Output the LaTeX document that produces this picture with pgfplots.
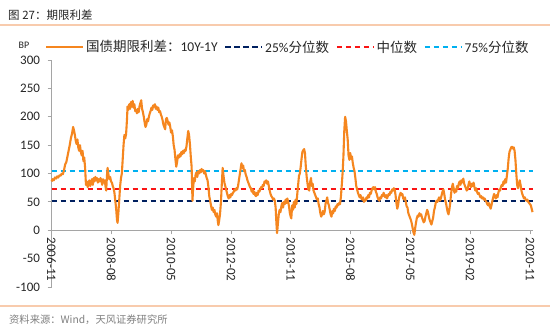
\documentclass[border=0pt]{standalone}
\usepackage{pgfplots}
\pgfplotsset{compat=1.18}
\usepackage{fontspec}
\setmainfont{Carlito}
\newfontfamily\cjk{Noto Sans CJK SC}
\definecolor{ora}{RGB}{245,134,31}
\definecolor{navyb}{RGB}{0,32,96}
\definecolor{medred}{RGB}{250,20,20}
\definecolor{lblue}{RGB}{0,176,240}
\definecolor{axgray}{RGB}{165,165,165}
\definecolor{txt}{RGB}{38,38,38}
\definecolor{hdr}{RGB}{248,203,173}
\pgfplotstableread{
y
72
}\medtab
\begin{document}
\begin{tikzpicture}[x=1bp,y=1bp]
\path[use as bounding box] (0,0) rectangle (550,328);
\fill[white] (0,0) rectangle (550,328);
\node[anchor=west, font=\cjk\fontsize{11.5bp}{13bp}\selectfont, text=txt, inner sep=0] at (8,313) {图 27：期限利差};
\draw[hdr, line width=1.2bp] (0,303) -- (550,303);
\draw[hdr, line width=1.2bp] (0,22) -- (550,22);
\node[anchor=west, font=\cjk\fontsize{10.3bp}{12bp}\selectfont, text=gray, inner sep=0] at (9,8) {资料来源：Wind，天风证券研究所};
\node[font=\fontsize{10bp}{12bp}\selectfont, text=txt] at (24,283) {BP};
\begin{axis}[
  at={(51.5bp,41bp)}, anchor=south west,
  scale only axis, width=481.3bp, height=227bp,
  xmin=0, xmax=169, ymin=-100, ymax=300,
  axis x line=middle, axis y line=left,
  axis line style={axgray, line width=0.8bp, -},
  xtick={0,21,42,63,84,105,126,147,168},
  xticklabels={2006-11,2008-08,2010-05,2012-02,2013-11,2015-08,2017-05,2019-02,2020-11},
  ytick={-100,-50,0,50,100,150,200,250,300},
  yticklabels={-100,-50,0,50,100,150,200,250,300},
  tick align=outside, xtick align=outside, major tick length=4bp,
  tick style={axgray, line width=0.8bp},
  hide obscured x ticks=false, hide obscured y ticks=false,
  xticklabel style={rotate=-90, anchor=west, font=\fontsize{13bp}{15bp}\selectfont, text=txt},
  yticklabel style={font=\fontsize{13bp}{15bp}\selectfont, text=txt, xshift=-4bp},
  clip=false,
  legend columns=4,
  legend style={at={(0.491,1.057)}, anchor=center, draw=none, fill=none,
    font=\fontsize{13.5bp}{15bp}\selectfont, text=txt,
    /tikz/every even column/.append style={column sep=5bp}},
  legend image code/.code={\draw[#1] (0bp,0bp) -- (37bp,0bp);},
]
\addlegendimage{color=ora, line width=2bp}
\addlegendentry{{\cjk 国债期限利差：}10Y-1Y}
\addlegendimage{color=navyb, line width=1.6bp, dash pattern=on 5.5bp off 3.5bp}
\addlegendentry{25\%{\cjk 分位数}}
\addlegendimage{color=medred, line width=1.6bp, dash pattern=on 5.5bp off 3.5bp}
\addlegendentry{{\cjk 中位数}}
\addlegendimage{color=lblue, line width=1.6bp, dash pattern=on 5.5bp off 3.5bp}
\addlegendentry{75\%{\cjk 分位数}}

\addplot[forget plot, color=navyb, line width=1.6bp, dash pattern=on 5.5bp off 3.5bp] coordinates {(0,52) (169,52)};
\addplot[forget plot, draw=medred, line width=1.7bp, dash pattern=on 5.5bp off 3.5bp] coordinates {(0,72.2) (169,72.2)};
\addplot[forget plot, color=lblue, line width=1.6bp, dash pattern=on 5.5bp off 3.5bp] coordinates {(0,104) (169,104)};

\addplot[forget plot, color=ora, line width=2.1bp, line join=round] coordinates {
(0,86) (0.4,90) (0.8,88) (1.2,93) (1.6,91) (2,95) (2.4,93) (2.8,97) (3.2,96) (3.6,100)
(4,99) (4.4,106) (4.8,116) (5.2,120) (5.6,130) (6,140) (6.4,150) (6.8,162) (7.2,170) (7.6,182)
(7.9,176) (8.2,168) (8.5,158) (8.8,152) (9.1,160) (9.4,146) (9.7,140) (10,150) (10.3,138) (10.6,132)
(10.9,140) (11.2,122) (11.5,128) (11.8,110) (12.1,80) (12.4,86) (12.7,76) (13,82) (13.3,88) (13.6,78)
(13.9,84) (14.2,90) (14.5,80) (14.8,92) (15.1,86) (15.4,94) (15.7,88) (16,92) (16.3,84) (16.6,90)
(16.9,86) (17.2,92) (17.5,88) (17.8,80) (18.1,90) (18.4,84) (18.7,88) (19,76) (19.2,70) (19.5,98)
(19.7,110) (20,98) (20.3,90) (20.6,94) (20.9,86) (21.2,84) (21.5,78) (21.8,74) (22.1,66) (22.4,52)
(22.7,38) (23,18) (23.2,13) (23.5,32) (23.8,55) (24.1,78) (24.4,92) (24.7,100) (25,125) (25.3,150)
(25.6,168) (25.9,162) (26.2,170) (26.5,195) (26.7,218) (27,212) (27.3,222) (27.6,214) (27.9,226) (28.2,218)
(28.5,228) (28.8,216) (29.1,222) (29.4,210) (29.7,212) (30,206) (30.3,214) (30.6,208) (30.9,218) (31.2,224)
(31.5,229) (31.8,214) (32.1,208) (32.4,200) (32.7,190) (33,182) (33.3,186) (33.6,196) (33.9,192) (34.2,200)
(34.5,206) (34.8,210) (35.1,216) (35.4,212) (35.7,220) (36,218) (36.3,222) (36.6,214) (36.9,218) (37.2,212)
(37.5,216) (37.8,208) (38.1,210) (38.4,204) (38.7,200) (39,194) (39.3,186) (39.6,182) (39.9,178) (40.2,196)
(40.5,198) (40.8,192) (41.1,186) (41.4,190) (41.7,182) (42,172) (42.3,176) (42.6,166) (42.9,150) (43.2,142)
(43.5,126) (43.8,112) (44.1,120) (44.4,132) (44.7,128) (45,134) (45.3,130) (45.6,138) (45.9,134) (46.2,140)
(46.5,136) (46.8,142) (47.1,140) (47.4,148) (47.7,162) (48,175) (48.3,168) (48.6,152) (48.9,130) (49.2,112)
(49.5,52) (49.7,72) (50,92) (50.3,86) (50.6,98) (50.9,102) (51.2,94) (51.5,104) (51.8,100) (52.1,106)
(52.4,102) (52.7,108) (53,104) (53.3,106) (53.6,100) (53.9,104) (54.2,98) (54.5,92) (54.8,88) (55.1,76)
(55.4,60) (55.7,52) (56,44) (56.3,36) (56.6,40) (56.9,32) (57.2,36) (57.5,28) (57.8,24) (58.1,30)
(58.4,16) (58.6,9) (58.9,18) (59.2,30) (59.5,50) (59.8,82) (60.1,110) (60.4,96) (60.7,84) (61,78)
(61.3,72) (61.6,66) (61.9,60) (62.2,56) (62.5,62) (62.8,58) (63.1,64) (63.4,62) (63.7,66) (64,68)
(64.3,72) (64.6,70) (64.9,74) (65.2,72) (65.5,78) (65.8,88) (66.1,98) (66.4,108) (66.7,118) (67,110)
(67.3,114) (67.6,104) (67.9,106) (68.2,98) (68.5,94) (68.8,88) (69.1,84) (69.4,80) (69.7,76) (70,74)
(70.3,68) (70.6,72) (70.9,64) (71.2,68) (71.5,62) (71.8,60) (72.1,66) (72.4,62) (72.7,70) (73,68)
(73.3,72) (73.6,76) (73.9,74) (74.2,80) (74.5,78) (74.8,86) (75.1,84) (75.4,88) (75.7,82) (76,86)
(76.3,78) (76.6,70) (76.9,64) (77.2,60) (77.5,58) (77.8,54) (78.1,56) (78.4,52) (78.7,40) (79,10)
(79.2,-5) (79.5,12) (79.8,28) (80.1,36) (80.4,32) (80.7,42) (81,48) (81.3,40) (81.6,50) (81.9,46)
(82.2,54) (82.5,48) (82.8,56) (83.1,50) (83.4,42) (83.7,30) (84,24) (84.2,21) (84.5,44) (84.8,36)
(85.1,50) (85.4,40) (85.7,54) (86,46) (86.3,64) (86.6,80) (86.9,96) (87.2,100) (87.5,112) (87.8,126)
(88.1,138) (88.4,141) (88.7,143) (89,136) (89.3,112) (89.6,94) (89.9,82) (90.2,72) (90.5,70) (90.8,84)
(91.1,92) (91.4,78) (91.7,82) (92,70) (92.3,66) (92.6,62) (92.9,58) (93.2,54) (93.5,56) (93.8,46)
(94.1,40) (94.4,30) (94.7,24) (95,28) (95.3,34) (95.6,28) (95.9,32) (96.2,46) (96.5,52) (96.8,58)
(97.1,48) (97.4,44) (97.7,36) (98,28) (98.3,24) (98.6,34) (98.9,30) (99.2,38) (99.5,34) (99.8,42)
(100.1,40) (100.4,46) (100.7,44) (101,48) (101.3,46) (101.6,58) (101.9,78) (102.2,100) (102.5,130) (102.8,175)
(103.1,200) (103.4,192) (103.7,175) (104,160) (104.3,132) (104.6,124) (104.9,136) (105.2,126) (105.5,130) (105.8,118)
(106.1,110) (106.4,104) (106.7,92) (107,78) (107.3,72) (107.6,66) (107.9,62) (108.2,58) (108.5,62) (108.8,56)
(109.1,54) (109.4,58) (109.7,50) (110,54) (110.3,52) (110.6,58) (110.9,56) (111.2,62) (111.5,58) (111.8,66)
(112.1,64) (112.4,70) (112.7,74) (113,76) (113.3,72) (113.6,76) (113.9,68) (114.2,64) (114.5,58) (114.8,54)
(115.1,52) (115.4,58) (115.7,56) (116,62) (116.3,60) (116.6,66) (116.9,62) (117.2,58) (117.5,62) (117.8,56)
(118.1,60) (118.4,64) (118.7,62) (119,68) (119.3,66) (119.6,72) (119.9,70) (120.2,74) (120.5,72) (120.8,62)
(121.1,48) (121.4,38) (121.7,44) (122,56) (122.3,62) (122.6,66) (122.9,62) (123.2,64) (123.5,56) (123.8,54)
(124.1,58) (124.4,50) (124.7,42) (125,40) (125.3,30) (125.6,26) (125.9,22) (126.2,18) (126.5,12) (126.8,4)
(127.1,-4) (127.4,-8) (127.7,4) (128,14) (128.3,22) (128.6,26) (128.9,24) (129.2,30) (129.5,26) (129.8,28)
(130.1,22) (130.4,18) (130.7,14) (131,16) (131.3,24) (131.6,30) (131.9,36) (132.2,32) (132.5,24) (132.8,18)
(133.1,14) (133.4,10) (133.7,16) (134,22) (134.3,34) (134.6,40) (134.9,48) (135.2,52) (135.5,50) (135.8,54)
(136.1,58) (136.4,52) (136.7,56) (137,62) (137.3,68) (137.6,72) (137.9,64) (138.2,54) (138.5,48) (138.8,40)
(139.1,32) (139.4,28) (139.7,36) (140,48) (140.3,64) (140.6,76) (140.9,82) (141.2,74) (141.5,66) (141.8,72)
(142.1,68) (142.4,78) (142.7,74) (143,82) (143.3,86) (143.6,80) (143.9,88) (144.2,84) (144.6,91) (144.9,82)
(145.2,78) (145.5,74) (145.8,70) (146.1,72) (146.4,80) (146.7,86) (147,80) (147.3,76) (147.6,82) (147.9,78)
(148.2,84) (148.5,76) (148.8,70) (149.1,74) (149.4,68) (149.7,64) (150,66) (150.3,62) (150.6,58) (150.9,60)
(151.2,56) (151.5,58) (151.8,54) (152.1,56) (152.4,52) (152.7,50) (153,46) (153.3,44) (153.6,48) (153.9,42)
(154.2,38) (154.5,44) (154.8,52) (155.1,58) (155.4,64) (155.7,60) (156,56) (156.3,62) (156.6,58) (156.9,66)
(157.2,72) (157.5,70) (157.8,76) (158.1,80) (158.4,78) (158.7,86) (159,82) (159.3,90) (159.6,84) (159.9,96)
(160.2,108) (160.5,126) (160.8,138) (161.1,142) (161.4,146) (161.7,147) (162,144) (162.3,146) (162.6,140) (162.9,124)
(163.2,100) (163.5,80) (163.8,74) (164.1,82) (164.4,88) (164.7,80) (165,70) (165.3,64) (165.6,60) (165.9,56)
(166.2,58) (166.5,54) (166.8,52) (167.1,54) (167.4,50) (167.7,48) (168,46) (168.3,44) (168.6,38) (168.9,32)
};
\end{axis}
\end{tikzpicture}
\end{document}
